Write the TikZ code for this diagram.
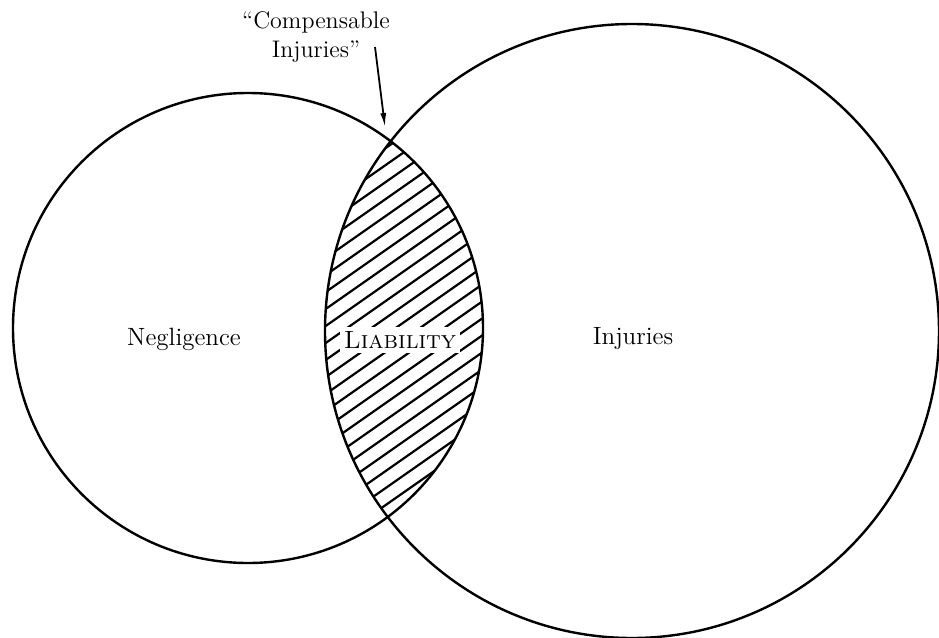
\documentclass[tikz,border=0pt]{standalone}
\usetikzlibrary{arrows.meta,calc}
\tikzset{
  setline/.style={line width=1.2pt},
  hatch/.style={line width=1.1pt},
  setlbl/.style={font=\fontsize{12.5}{15}\selectfont, inner sep=1pt, align=center},
  ptr/.style={-{Latex[length=7pt,width=3pt]}, line width=0.9pt},
}
\begin{document}
\begin{tikzpicture}[x=0.5pt,y=-0.5pt]
\useasboundingbox (0,0) rectangle (939,638);

% centres of the two sets
\coordinate (negc) at (248,328);
\coordinate (injc) at (632,331);

% hatched overlap
\begin{scope}
  \clip (negc) circle[radius=117.5pt];
  \clip (injc) circle[radius=153.5pt];
  \foreach \y in {140,157,...,680}
    \draw[hatch] (300,\y) -- (500,\y-140);
\end{scope}

\draw[setline] (negc) circle[radius=117.5pt];
\draw[setline] (injc) circle[radius=153.5pt];

\node[setlbl] (neg) at (184,339) {Negligence};
\node[setlbl] (inj) at (633,339) {Injuries};
\node[setlbl, fill=white, inner sep=2pt] (liab) at (400,340) {\textsc{Liability}};

\node[setlbl, font=\fontsize{12}{14.5}\selectfont] (comp) at (316,37) {``Compensable\\Injuries''};
\coordinate (tail) at (375,47);
\coordinate (tip) at (385,127);
\draw[ptr] (tail) -- (tip);
\end{tikzpicture}
\end{document}
